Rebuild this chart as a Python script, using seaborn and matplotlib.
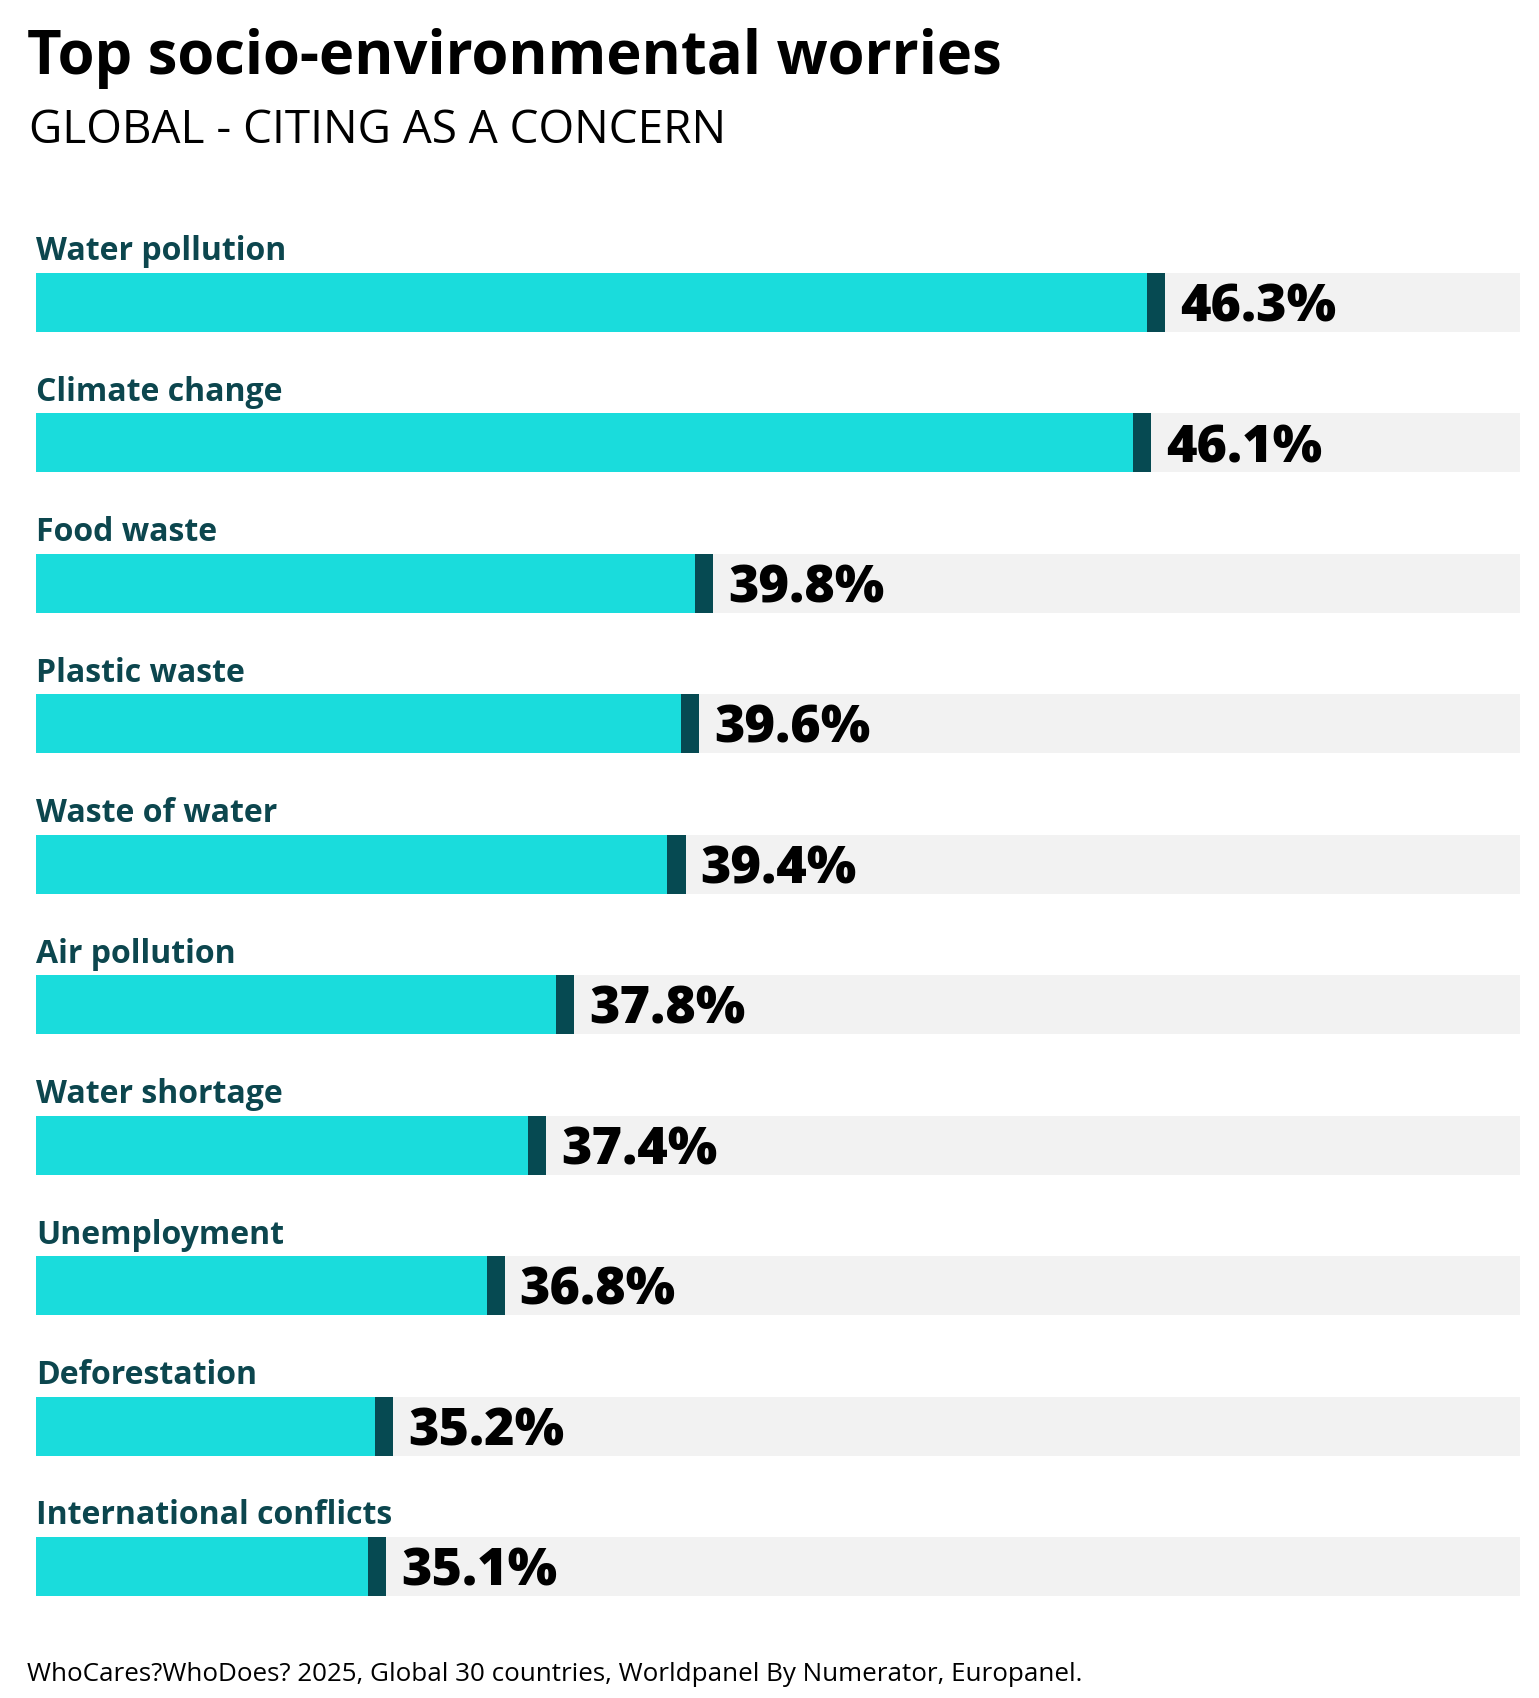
import numpy as np
import pandas as pd
import matplotlib.pyplot as plt
import seaborn as sns

# Werte
categories = ["Water pollution", "Climate change", "Food waste", "Plastic waste",
              "Waste of water", "Air pollution", "Water shortage", "Unemployment",
              "Deforestation", "International conflicts"]
values = [46.3, 46.1, 39.8, 39.6, 39.4, 37.8, 37.4, 36.8, 35.2, 35.1]
value_labels = ["46.3%", "46.1%", "39.8%", "39.6%", "39.4%", "37.8%",
                "37.4%", "36.8%", "35.2%", "35.1%"]

title = "Top socio-environmental worries"
subtitle = "GLOBAL - CITING AS A CONCERN"
source = "WhoCares?WhoDoes? 2025, Global 30 countries, Worldpanel By Numerator, Europanel."

CYAN = "#1adcdc"
DARK = "#064a52"
LABEL = "#0c464e"
TRACK = "#f2f2f2"

XMIN, XMAX = 30.06, 51.40
CAP = 0.26

df = pd.DataFrame({"Category": categories, "Value": values})

sns.set_theme(style="white")
plt.rcParams["font.family"] = ["Open Sans", "DejaVu Sans"]

fig = plt.figure(figsize=(15.39, 16.98), dpi=100)
ax = fig.add_axes([36 / 1539, 0.0443, (1520 - 36) / 1539, 0.8396])

# graue Hintergrundbalken
ax.barh(np.arange(len(categories)), XMAX, height=0.42, color=TRACK,
        linewidth=0, zorder=0)

sns.barplot(data=df, x="Value", y="Category", orient="h", color=CYAN,
            width=0.42, saturation=1, linewidth=0, ax=ax, zorder=1)

# dunkle Kappe am Balkenende
vals = np.array(values)
ax.barh(np.arange(len(categories)), CAP, left=vals - CAP, height=0.42,
        color=DARK, linewidth=0, zorder=2)

for i, (cat, v, lab) in enumerate(zip(categories, values, value_labels)):
    ax.text(XMIN, i - 0.30, cat, ha="left", va="baseline", fontsize=23,
            fontweight="bold", color=LABEL)
    ax.text(v + 0.21, i + 0.04, lab, ha="left", va="center", fontsize=37.5,
            fontweight="heavy", color="black")

ax.set_xlim(XMIN, XMAX)
ax.set_ylim(9.4, -0.75)
ax.axis("off")

fig.text(27 / 1539, 1 - 74 / 1698, title, fontsize=43, fontweight="bold",
         color="black", va="baseline")
fig.text(29 / 1539, 1 - 143 / 1698, subtitle, fontsize=33, fontweight="normal",
         color="black", va="baseline")
fig.text(27 / 1539, 1 - 1681 / 1698, source, fontsize=18.7, color="black",
         va="baseline")

fig.savefig("out.png", dpi=100)
